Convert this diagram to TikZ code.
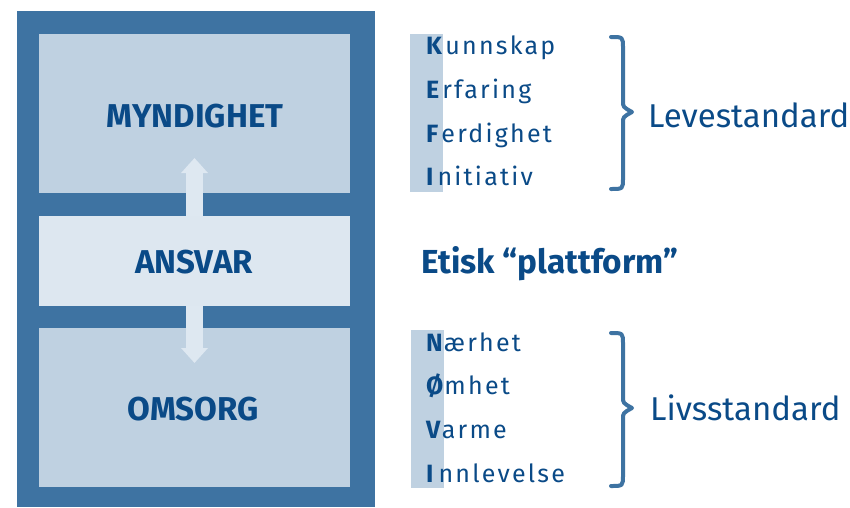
\documentclass[tikz,border=0pt]{standalone}
\usepackage{fontspec}
\setmainfont{Fira Sans}[Ligatures=NoCommon]
\usetikzlibrary{arrows.meta}
\definecolor{framec}{RGB}{62,115,162}
\definecolor{panelc}{RGB}{191,209,225}
\definecolor{midc}{RGB}{221,231,240}
\definecolor{arrowc}{RGB}{222,232,241}
\definecolor{textc}{RGB}{10,74,135}
\newcommand{\spaced}[1]{{\addfontfeature{LetterSpace=9}#1}}
\tikzset{
  panel/.style={fill=#1, inner sep=0pt, minimum width=311pt},
  boxlabel/.style={anchor=base, text=textc, font=\bfseries\fontsize{33}{33}\selectfont, inner sep=0pt},
  rowtxt/.style={anchor=base west, text=textc, font=\fontsize{25}{25}\selectfont, inner sep=0pt},
  sumtxt/.style={anchor=base west, text=textc, font=\fontsize{33}{33}\selectfont, inner sep=0pt},
  colbar/.style={fill=panelc, inner sep=0pt, minimum width=33pt, minimum height=158pt},
  bracec/.style={draw=framec, line width=4pt, line cap=round, line join=round},
  updown/.style={draw=arrowc, line width=17pt, -{Triangle[width=26pt,length=15pt]}}
}
\begin{document}
\begin{tikzpicture}[x=1pt,y=-1pt]
\useasboundingbox (0,0) rectangle (850,507);
% frame
\node[fill=framec, inner sep=0pt, minimum width=358pt, minimum height=496pt] (frame) at (196,259) {};
\node[panel=panelc, minimum height=159pt] (myn) at (194.5,113.5) {};
\node[panel=midc, minimum height=90pt] (ans) at (194.5,261) {};
\node[panel=panelc, minimum height=159pt] (oms) at (194.5,407.5) {};
% arrows
\coordinate (uptip) at (194.5,158);
\coordinate (downtip) at (194.5,363);
\draw[updown] (ans.north) -- (uptip);
\draw[updown] (ans.south) -- (downtip);
% labels
\node[boxlabel] (lmyn) at (195,127) {MYNDIGHET};
\node[boxlabel] (lans) at (194,273) {ANSVAR};
\node[boxlabel] (loms) at (193,420) {OMSORG};
% KEFI
\node[colbar] (kefibar) at (426.5,113) {};
\node[rowtxt] (k) at (426,54) {\textbf{K}\hspace{3pt}\spaced{unnskap}};
\node[rowtxt] (e) at (426,98) {\textbf{E}\hspace{3pt}\spaced{rfaring}};
\node[rowtxt] (f) at (426,142) {\textbf{F}\hspace{3pt}\spaced{erdighet}};
\node[rowtxt] (i1) at (426,185) {\textbf{I}\hspace{4pt}\spaced{nitiativ}};
\draw[bracec] (611,37) .. controls (623,37) .. (623,48) -- (623,101)
  .. controls (623,107) .. (632,112) .. controls (623,117) .. (623,123)
  -- (623,178) .. controls (623,189) .. (611,189);
\node[sumtxt] (leve) at (648,127) {Levestandard};
% ethics
\node[anchor=base west, text=textc, font=\bfseries\fontsize{33.3}{33}\selectfont, inner sep=0pt] (etisk) at (421,273) {Etisk “plattform”};
% NOVI
\node[colbar] (novibar) at (427,408.5) {};
\node[rowtxt] (n) at (426,351) {\textbf{N}\hspace{1pt}\spaced{ærhet}};
\node[rowtxt] (o) at (426,394) {\textbf{Ø}\hspace{1pt}\spaced{mhet}};
\node[rowtxt] (v) at (426,438) {\textbf{V}\hspace{1pt}\spaced{arme}};
\node[rowtxt] (i2) at (426,482) {\textbf{I}\hspace{5pt}\spaced{nnlevelse}};
\draw[bracec] (611,333) .. controls (623,333) .. (623,344) -- (623,397)
  .. controls (623,403) .. (632,408) .. controls (623,413) .. (623,419)
  -- (623,475) .. controls (623,486) .. (611,486);
\node[sumtxt] (livs) at (650,420) {Livsstandard};
\end{tikzpicture}
\end{document}
